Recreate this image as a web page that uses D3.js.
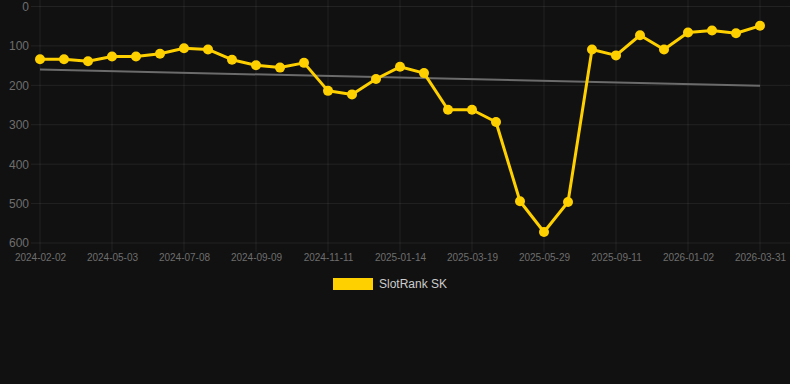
<!DOCTYPE html>
<html>
<head>
<meta charset="utf-8">
<script src="https://cdn.jsdelivr.net/npm/d3@7/dist/d3.min.js"></script>
<style>
  html, body { margin: 0; padding: 0; background: #111111; }
  svg { display: block; font-family: "Liberation Sans", Arial, sans-serif; }
</style>
</head>
<body>
<div id="chart"></div>
<script>
// SlotRank SK 排名走势: 数值越小越靠前, 所以 y 轴是反的 (0 在顶部)
const seriesName = "SlotRank SK";
const ranks = [134, 134, 139, 127, 127, 120, 106, 109, 135, 149, 155, 143, 214, 223, 184,
               153, 169, 262, 262, 293, 494, 572, 496, 109, 124, 73, 109, 66, 61, 68, 49];
// 每隔三个点才显示一个日期
const tickLabels = ["2024-02-02", "2024-05-03", "2024-07-08", "2024-09-09", "2024-11-11",
                    "2025-01-14", "2025-03-19", "2025-05-29", "2025-09-11", "2026-01-02", "2026-03-31"];
const tickEvery = 3;
const yTicks = [0, 100, 200, 300, 400, 500, 600];
const trend = [160, 201]; // 灰色趋势线两端

const W = 790, H = 384;
const margin = { top: 6.5, right: 30, bottom: 141, left: 40 };
const iw = W - margin.left - margin.right;
const ih = H - margin.top - margin.bottom;

const svg = d3.select("#chart").append("svg").attr("width", W).attr("height", H);
svg.append("rect").attr("width", W).attr("height", H).attr("fill", "#111111");
const g = svg.append("g").attr("transform", `translate(${margin.left},${margin.top})`);

const idx = d3.range(ranks.length);
const x = d3.scalePoint().domain(idx).range([0, iw]);
const y = d3.scaleLinear().domain([0, 600]).range([0, ih]);

const gridColor = "rgba(255,255,255,0.075)";
const tickColor = "#6e6e6e";

// 横向网格 (向左延伸成刻度线)
g.append("g").selectAll("line").data(yTicks).join("line")
  .attr("x1", -9).attr("x2", iw + margin.right)
  .attr("y1", (d) => y(d)).attr("y2", (d) => y(d))
  .attr("stroke", gridColor).attr("stroke-width", 1);

const xTickIdx = idx.filter((i) => i % tickEvery === 0);
g.append("g").selectAll("line").data(xTickIdx).join("line")
  .attr("x1", (d) => x(d)).attr("x2", (d) => x(d))
  .attr("y1", -margin.top).attr("y2", ih + 9)
  .attr("stroke", gridColor).attr("stroke-width", 1);

// 坐标轴文字
const gy = g.append("g").call(d3.axisLeft(y).tickValues(yTicks).tickSize(0).tickPadding(11));
gy.select(".domain").remove();
gy.selectAll("text").attr("fill", tickColor).attr("font-size", 12);

const gx = g.append("g").attr("transform", `translate(0,${ih})`)
  .call(d3.axisBottom(x).tickValues(xTickIdx).tickSize(0).tickPadding(11)
    .tickFormat((d) => tickLabels[d / tickEvery]));
gx.select(".domain").remove();
gx.selectAll("text").attr("fill", tickColor).attr("font-size", 10);

// 趋势线
g.append("line")
  .attr("x1", x(0)).attr("x2", x(ranks.length - 1))
  .attr("y1", y(trend[0])).attr("y2", y(trend[1]))
  .attr("stroke", "#6b6b6b").attr("stroke-width", 2);

const gold = "#ffd000";
g.append("path").datum(ranks)
  .attr("fill", "none").attr("stroke", gold).attr("stroke-width", 3)
  .attr("stroke-linejoin", "round")
  .attr("d", d3.line().x((d, i) => x(i)).y((d) => y(d)));

g.append("g").selectAll("circle").data(ranks).join("circle")
  .attr("cx", (d, i) => x(i)).attr("cy", (d) => y(d))
  .attr("r", 5).attr("fill", gold);

// 图例
const lg = svg.append("g").attr("transform", "translate(333,278)");
lg.append("rect").attr("width", 40).attr("height", 12).attr("fill", gold);
lg.append("text").attr("x", 46).attr("y", 6).attr("dy", "0.35em")
  .attr("fill", "#cccccc").attr("font-size", 12).text(seriesName);
</script>
</body>
</html>
